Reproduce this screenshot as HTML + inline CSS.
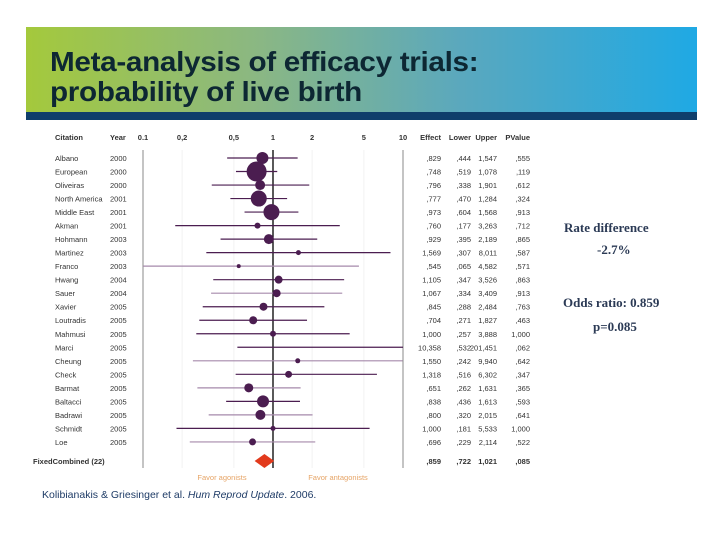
<!DOCTYPE html>
<html><head><meta charset="utf-8"><style>
body{margin:0;width:720px;height:540px;background:#fff;overflow:hidden;position:relative;font-family:"Liberation Sans",sans-serif}
#banner{position:absolute;left:26px;top:27px;width:671px;height:85px;background:linear-gradient(90deg,#a4c93c 0%,#8ab784 35%,#5aa8be 65%,#1fa9e4 100%)}
#bar{position:absolute;left:26px;top:112px;width:671px;height:8px;background:#0f3e6b}
#title{position:absolute;left:50px;top:47px;font-size:28px;font-weight:bold;line-height:30px;color:#0d2733;transform:scaleX(1.06);transform-origin:0 0;white-space:nowrap;letter-spacing:-0.3px}
.rt{position:absolute;font-family:"Liberation Serif",serif;font-weight:bold;color:#2b3a55;font-size:13px}
</style></head><body>
<div id="banner"></div>
<div id="bar"></div>
<div id="title">Meta-analysis of efficacy trials:<br>probability of live birth</div>
<div class="rt" style="left:564px;top:220px">Rate difference</div>
<div class="rt" style="left:597px;top:242px">-2.7%</div>
<div class="rt" style="left:563px;top:295px">Odds ratio: 0.859</div>
<div class="rt" style="left:593px;top:319px">p=0.085</div>
<svg id="chart" width="720" height="540" style="position:absolute;left:0;top:0"></svg>
<script>
const citations=["Albano","European","Oliveiras","North America","Middle East","Akman","Hohmann","Martinez","Franco","Hwang","Sauer","Xavier","Loutradis","Mahmusi","Marci","Cheung","Check","Barmat","Baltacci","Badrawi","Schmidt","Loe"];
const years=["2000","2000","2000","2001","2001","2001","2003","2003","2003","2004","2004","2005","2005","2005","2005","2005","2005","2005","2005","2005","2005","2005"];
const effects=[0.829,0.748,0.796,0.777,0.973,0.760,0.929,1.569,0.545,1.105,1.067,0.845,0.704,1.000,10.358,1.550,1.318,0.651,0.838,0.800,1.000,0.696];
const lowers=[0.444,0.519,0.338,0.470,0.604,0.177,0.395,0.307,0.065,0.347,0.334,0.288,0.271,0.257,0.532,0.242,0.516,0.262,0.436,0.320,0.181,0.229];
const uppers=[1.547,1.078,1.901,1.284,1.568,3.263,2.189,8.011,4.582,3.526,3.409,2.484,1.827,3.888,201.451,9.940,6.302,1.631,1.613,2.015,5.533,2.114];
const effectLabels=[",829",",748",",796",",777",",973",",760",",929","1,569",",545","1,105","1,067",",845",",704","1,000","10,358","1,550","1,318",",651",",838",",800","1,000",",696"];
const lowerLabels=[",444",",519",",338",",470",",604",",177",",395",",307",",065",",347",",334",",288",",271",",257",",532",",242",",516",",262",",436",",320",",181",",229"];
const upperLabels=["1,547","1,078","1,901","1,284","1,568","3,263","2,189","8,011","4,582","3,526","3,409","2,484","1,827","3,888","201,451","9,940","6,302","1,631","1,613","2,015","5,533","2,114"];
const pLabels=[",555",",119",",612",",324",",913",",712",",865",",587",",571",",863",",913",",763",",463","1,000",",062",",642",",347",",365",",593",",641","1,000",",522"];
const weights=[6,10,5,8,8,3,5,2.5,2,4,4,4,4,3,0,2.5,3.5,4.5,6,5,2.5,3.5];
const combined={effect:0.859,lower:0.722,upper:1.021,label:[",859",",722","1,021",",085"]};
const ticks=[0.1,0.2,0.5,1,2,5,10];
const tickLabels=["0.1","0,2","0,5","1","2","5","10"];
const light=[0,0,0,0,0,0,0,0,1,0,1,0,0,0,0,1,0,1,0,1,0,1];

const svg=document.getElementById('chart');const NS='http://www.w3.org/2000/svg';
const X0=143,X1=403;
function xs(v){v=Math.max(0.1,Math.min(10,v));return X0+(Math.log10(v)+1)/2*(X1-X0);}
function ys(i){return 158+i*13.52;}
function el(t,a,txt){const e=document.createElementNS(NS,t);for(const k in a)e.setAttribute(k,a[k]);if(txt!=null)e.textContent=txt;svg.appendChild(e);return e;}
const fs={'font-size':'7.5','font-family':'Liberation Sans, sans-serif','fill':'#333'};
function txt(x,y,s,anchor,extra){return el('text',Object.assign({x:x,y:y,'text-anchor':anchor||'start'},fs,extra||{}),s);}
const hb={'font-weight':'bold'};
let h;
h=txt(55,140,'Citation','start',hb);
h=txt(110,140,'Year','start',hb);
h=txt(441,140,'Effect','end',hb);
h=txt(471,140,'Lower','end',hb);
h=txt(497,140,'Upper','end',hb);
h=txt(530,140,'PValue','end',hb);
ticks.forEach((t,i)=>{
 const e=txt(xs(t),140,tickLabels[i],'middle',hb);
 
 
 if(t!==1&&t!==0.1&&t!==10){const g=el('line',{x1:xs(t),x2:xs(t),y1:150,y2:468,stroke:'#f2f2f2','stroke-width':1});
 
 }
});
let f=el('line',{x1:X0,x2:X0,y1:150,y2:468,stroke:'#888','stroke-width':1});

f=el('line',{x1:X1,x2:X1,y1:150,y2:468,stroke:'#888','stroke-width':1});

f=el('line',{x1:xs(1),x2:xs(1),y1:150,y2:468,stroke:'#000','stroke-width':1.3});

citations.forEach((c,i)=>{
 const y=ys(i);
 let e=txt(55,y+3,c);
 e=txt(110,y+3,years[i]);
 e=txt(441,y+3,effectLabels[i],'end');
 e=txt(471,y+3,lowerLabels[i],'end');
 e=txt(497,y+3,upperLabels[i],'end');
 e=txt(530,y+3,pLabels[i],'end');
 const col=light[i]?'#a68aab':'#4b1d50';
 e=el('line',{x1:xs(lowers[i]),x2:xs(uppers[i]),y1:y,y2:y,stroke:col,'stroke-width':1.2});
 
 if(effects[i]<=10&&weights[i]>0){e=el('circle',{cx:xs(effects[i]),cy:y,r:weights[i],fill:'#4b1d50'});
 }
});
const yc=461;
let c=txt(33,yc+3,'FixedCombined (22)','start',hb);
const cl=combined.label;
[[441,cl[0]],[471,cl[1]],[497,cl[2]],[530,cl[3]]].forEach(p=>{const e=txt(p[0],yc+3,p[1],'end',hb);
 });
c=el('polygon',{points:`${xs(combined.lower)},${yc} ${xs(combined.effect)},${yc-7} ${xs(combined.upper)},${yc} ${xs(combined.effect)},${yc+7}`,fill:'#e23a1c'});

c=txt(222,480,'Favor agonists','middle',{fill:'#e6a466'});
c=txt(338,480,'Favor antagonists','middle',{fill:'#e6a466'});
</script>
<div style="position:absolute;left:42px;top:489px;font-size:10.5px;color:#1e3b66">Kolibianakis &amp; Griesinger et al. <i>Hum Reprod Update</i>. 2006.</div>
</body></html>
